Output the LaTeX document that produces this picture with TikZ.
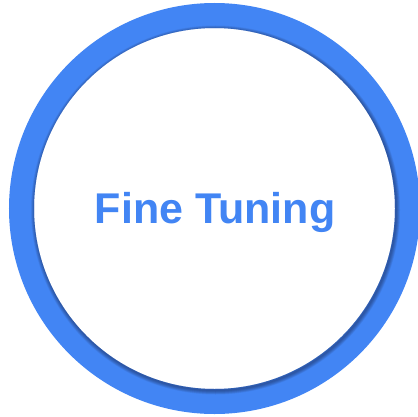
\documentclass[tikz,border=0pt]{standalone}
\usepackage{fontspec}
\setmainfont{Liberation Sans}
\definecolor{gblue}{HTML}{4285F4}
\definecolor{shadowc}{HTML}{1A2A55}
\tikzset{
  ring/.style={draw=gblue, line width=25pt},
  title/.style={text=gblue, font=\bfseries\fontsize{43}{50}\selectfont, inner sep=0pt},
}
\begin{document}
\begin{tikzpicture}[x=1pt,y=1pt]
\useasboundingbox (0,0) rectangle (417,-417);
\fill[white] (0,0) rectangle (417,-417);
\coordinate (c) at (214.5,-208.5);
\draw[ring] (c) circle[radius=193];
\begin{scope}[even odd rule]
  \clip (c) circle[radius=205.5] (c) circle[radius=180.5];
  \foreach \w in {1,2,3,4,5,6,7,8}{
    \draw[shadowc, opacity=0.08, line width=\w pt] ([shift={(1,-1.5)}]c) circle[radius=180.5];
  }
\end{scope}
\node[title, anchor=base] (t) at (215,-223) {Fine Tuning};
\end{tikzpicture}
\end{document}
